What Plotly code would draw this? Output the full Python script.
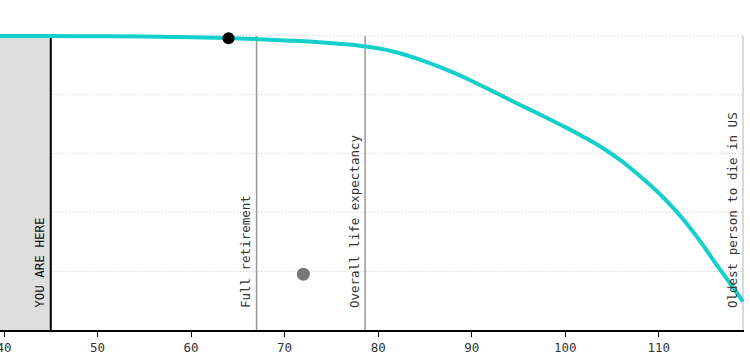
import plotly.graph_objects as go

# Survival curve (probability of being alive at each age)
ages = [39.5, 45, 50, 55, 60, 64, 67, 70, 73, 76, 78, 80, 82, 84, 86, 88, 90, 92, 94, 96, 98,
        100, 102, 104, 106, 108, 110, 112, 114, 116, 118, 119]
survival = [1.000, 1.000, 0.999, 0.998, 0.996, 0.993, 0.990, 0.985, 0.980, 0.973, 0.967, 0.958,
            0.944, 0.925, 0.902, 0.876, 0.847, 0.816, 0.784, 0.753, 0.722,
            0.690, 0.656, 0.619, 0.575, 0.523, 0.466, 0.399, 0.320, 0.230, 0.142, 0.097]

current_age = 45
you_point_age = [64]
you_point_val = [0.992]
other_point_age = [72]
other_point_val = [0.19]

marker_ages = [67, 78.6, 119]
marker_labels = ["Full retirement", "Overall life expectancy", "Oldest person to die in US"]

xticks = [40, 50, 60, 70, 80, 90, 100, 110]
yticks = [0.2, 0.4, 0.6, 0.8, 1.0]

FONT = "DejaVu Sans Mono"

fig = go.Figure()
fig.add_trace(go.Scatter(x=ages, y=survival, mode="lines",
                         line=dict(color="#14CFCB", width=4, shape="spline", smoothing=1.0),
                         hoverinfo="skip", showlegend=False))
fig.add_trace(go.Scatter(x=you_point_age, y=you_point_val, mode="markers",
                         marker=dict(color="black", size=12), showlegend=False))
fig.add_trace(go.Scatter(x=other_point_age, y=other_point_val, mode="markers",
                         marker=dict(color="#777777", size=13), showlegend=False))

shapes = [
    dict(type="rect", xref="x", yref="y", x0=39.0, x1=current_age, y0=0, y1=0.995,
         fillcolor="#dedede", line=dict(width=0), layer="between"),
    dict(type="line", xref="x", yref="y", x0=current_age, x1=current_age, y0=0, y1=0.995,
         line=dict(color="black", width=2), layer="between"),
]
for i, a in enumerate(marker_ages):
    col = "#cccccc" if i == 2 else "#999999"
    shapes.append(dict(type="line", xref="x", yref="y", x0=a, x1=a, y0=0, y1=1.0,
                       line=dict(color=col, width=1.5), layer="between"))

annotations = [dict(x=current_age, y=0.068, xref="x", yref="y", text="YOU ARE HERE",
                    textangle=-90, showarrow=False, xanchor="center", yanchor="bottom",
                    xshift=-12, font=dict(family=FONT, size=12.5, color="#111111"))]
for a, t in zip(marker_ages, marker_labels):
    annotations.append(dict(x=a, y=0.068, xref="x", yref="y", text=t, textangle=-90,
                            showarrow=False, xanchor="center", yanchor="bottom",
                            xshift=-11, font=dict(family=FONT, size=12.5, color="#333333")))

fig.update_layout(
    width=750, height=362,
    margin=dict(l=0, r=6, t=0, b=32, autoexpand=False),
    paper_bgcolor="white", plot_bgcolor="white",
    shapes=shapes, annotations=annotations,
    xaxis=dict(range=[39.572, 119.107], tickvals=xticks, showgrid=False, zeroline=False,
               showline=True, linecolor="black", linewidth=2,
               ticks="outside", ticklen=5, tickcolor="black", tickwidth=1,
               ticklabeloverflow="allow", automargin=False,
               tickfont=dict(family=FONT, size=12.5, color="#333333")),
    yaxis=dict(range=[0, 1.1224], tickvals=yticks, showticklabels=False, zeroline=False,
               automargin=False,
               showgrid=True, gridcolor="#cfcfcf", griddash="1px,2px", gridwidth=1),
    showlegend=False,
)

fig.write_html("out.html")
